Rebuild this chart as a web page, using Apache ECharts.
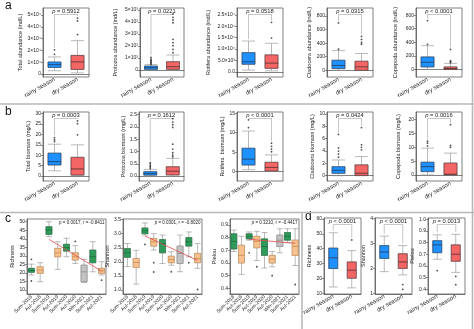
<!DOCTYPE html>
<html>
<head>
<meta charset="utf-8">
<script src="https://cdn.jsdelivr.net/npm/echarts/dist/echarts.min.js"></script>
<style>
  html, body { margin: 0; padding: 0; background: #fff; }
  #main { width: 474px; height: 329px; }
</style>
</head>
<body>
<div id="main"></div>
<script>
var FONT = 'Liberation Sans, Arial, sans-serif';

var seasons = ['rainy season', 'dry season'];
var periods = ['Sum-2018', 'Aut-2018', 'Sum-2019', 'Aut-2019', 'Sum-2020', 'Aut-2020', 'Win-2021', 'Sum-2021', 'Aut-2021'];
var periodKind = ['sum', 'aut', 'sum', 'aut', 'sum', 'aut', 'win', 'sum', 'aut'];

// ---- a: abundance (ind/L), [min, Q1, median, Q3, max] per season
var totalAbundance = [[2800, 5600, 8000, 10200, 14500], [1000, 3900, 10300, 15800, 28300]];
var totalAbundanceOut = [[16700, 20500], [33500, 45000, 47500]];
var protozoaAbundance = [[0, 60, 200, 330, 450], [0, 60, 280, 690, 1250]];
var protozoaAbundanceOut = [[480, 560, 640, 720, 800, 900, 1050], [1440, 1720, 2030, 2280, 2560, 3940, 4170, 4390, 4670]];
var rotiferaAbundance = [[750, 3300, 4400, 8400, 13500], [400, 1500, 3800, 7400, 12500]];
var rotiferaAbundanceOut = [[], [14800, 21700]];
var cladoceraAbundance = [[0, 25, 70, 148, 290], [0, 0, 50, 133, 247]];
var cladoceraAbundanceOut = [[310, 700], [385, 410, 455, 500]];
var copepodaAbundance = [[0, 38, 107, 185, 350], [0, 0, 15, 38, 90]];
var copepodaAbundanceOut = [[370, 720], [100, 115, 130, 295]];

// ---- b: biomass (mg/L)
var totalBiomass = [[2.5, 5.3, 6.9, 11.0, 15.3], [0.2, 0.5, 3.4, 9.0, 15.0]];
var totalBiomassOut = [[16.6, 17.5, 18.5], [19.8, 25.2, 26.5]];
var protozoaBiomass = [[0, 0.04, 0.1, 0.18, 0.27], [0, 0.05, 0.2, 0.38, 0.72]];
var protozoaBiomassOut = [[0.32, 0.38, 0.44, 0.5, 0.55], [0.78, 0.85, 0.95, 1.1, 1.3, 1.98, 2.09, 2.2, 2.34]];
var rotiferaBiomass = [[0.5, 1.7, 3.2, 6.0, 10.4], [0.1, 0.2, 1.1, 2.4, 4.3]];
var rotiferaBiomassOut = [[11.3, 13.3], [5.1, 5.8, 6.5, 7.3]];
var cladoceraBiomass = [[0, 0.39, 0.88, 1.46, 2.55], [0, 0.05, 0.4, 1.75, 3.1]];
var cladoceraBiomassOut = [[3.0, 3.5, 4.0, 4.5, 6.7], [4.2, 4.6, 5.0, 7.8]];
var copepodaBiomass = [[0, 1.2, 3.0, 4.6, 9.7], [0, 0, 0.25, 4.3, 7.9]];
var copepodaBiomassOut = [[10.5, 11.5, 12.2], [10.0, 10.7, 18.2]];

// ---- c: diversity by period
var richnessPeriod = [[18.8, 20.4, 21.5, 22.7, 25.2], [14.9, 19.8, 21.7, 23.6, 26], [41.2, 42.6, 45.1, 47.1, 50],
  [22.1, 29.5, 31.8, 34.4, 38.3], [29.5, 32.8, 34.8, 36.8, 40.3], [25.6, 27.6, 29.5, 31.8, 36],
  [14.5, 14.9, 20.7, 24.6, 28], [20.7, 26, 29.5, 33.4, 38.3], [18.8, 19.8, 21.3, 22.7, 26.6]];
var richnessPeriodOut = [[28, 15.3], [], [], [], [], [38.5], [], [], [15.8]];
var shannonPeriod = [[1.83, 2.16, 2.32, 2.47, 2.65], [1.21, 1.8, 1.98, 2.12, 2.41], [2.95, 3.0, 3.1, 3.2, 3.38],
  [2.42, 2.56, 2.71, 2.83, 3.0], [1.94, 2.32, 2.65, 2.79, 2.95], [1.88, 1.97, 2.08, 2.2, 2.36],
  [1.65, 1.94, 2.3, 2.56, 2.95], [2.18, 2.56, 2.71, 2.86, 3.06], [1.77, 1.97, 2.12, 2.3, 2.65]];
var shannonPeriodOut = [[], [], [2.62], [1.97, 1.64], [], [1.65], [], [1.97], [1.02]];
var pielouPeriod = [[0.69, 0.71, 0.77, 0.83, 0.86], [0.51, 0.6, 0.66, 0.74, 0.81], [0.78, 0.79, 0.81, 0.83, 0.845],
  [0.62, 0.72, 0.77, 0.81, 0.85], [0.56, 0.66, 0.73, 0.79, 0.84], [0.57, 0.6, 0.63, 0.66, 0.69],
  [0.68, 0.73, 0.78, 0.82, 0.87], [0.76, 0.78, 0.81, 0.84, 0.87], [0.58, 0.66, 0.73, 0.78, 0.87]];
var pielouPeriodOut = [[], [], [0.68], [0.57], [], [0.5], [], [], [0.43]];
// regression line ends (Sum-2019 -> Aut-2021)
var richnessTrend = [39.7, 21.1];
var shannonTrend = [2.92, 2.05];
var pielouTrend = [0.787, 0.755];

// ---- d: diversity by season
var richnessSeason = [[14.3, 26.7, 33.9, 40.4, 50.7], [13.7, 20.2, 25.6, 31.1, 38.7]];
var richnessSeasonOut = [[], [45.9]];
var shannonSeason = [[1.87, 2.4, 2.66, 2.92, 3.3], [1.74, 2.0, 2.26, 2.59, 2.92]];
var shannonSeasonOut = [[], [1.35, 1.16]];
var pielouSeason = [[0.657, 0.713, 0.78, 0.816, 0.866], [0.545, 0.64, 0.70, 0.78, 0.87]];
var pielouSeasonOut = [[0.56], [0.51, 0.44]];

// ---- tick values and labels
var tTotalAb = [0, 10000, 20000, 30000, 40000, 50000];
var lTotalAb = ['0', '1×10⁴', '2×10⁴', '3×10⁴', '4×10⁴', '5×10⁴'];
var tProtoAb = [0, 1000, 2000, 3000, 4000, 5000];
var lProtoAb = ['0', '1×10³', '2×10³', '3×10³', '4×10³', '5×10³'];
var tRotiAb = [0, 5000, 10000, 15000, 20000, 25000];
var lRotiAb = ['0.0', '5.0×10³', '1.0×10⁴', '1.5×10⁴', '2.0×10⁴', '2.5×10⁴'];
var tSmallAb = [0, 200, 400, 600, 800];
var lSmallAb = ['0', '200', '400', '600', '800'];
var tTotalBio = [0, 5, 10, 15, 20, 25, 30];
var lTotalBio = ['0', '5', '10', '15', '20', '25', '30'];
var tProtoBio = [0, 0.5, 1, 1.5, 2, 2.5];
var lProtoBio = ['0.0', '0.5', '1.0', '1.5', '2.0', '2.5'];
var tRotiBio = [0, 5, 10, 15];
var lRotiBio = ['0', '5', '10', '15'];
var tCladBio = [0, 2, 4, 6, 8, 10];
var lCladBio = ['0', '2', '4', '6', '8', '10'];
var tCopeBio = [0, 5, 10, 15, 20];
var lCopeBio = ['0', '5', '10', '15', '20'];
var tRichC = [10, 15, 20, 25, 30, 35, 40, 45, 50];
var lRichC = ['10', '15', '20', '25', '30', '35', '40', '45', '50'];
var tShanC = [1, 1.5, 2, 2.5, 3, 3.5];
var lShanC = ['1.0', '1.5', '2.0', '2.5', '3.0', '3.5'];
var tPielC = [0.4, 0.5, 0.6, 0.7, 0.8, 0.9];
var lPielC = ['0.4', '0.5', '0.6', '0.7', '0.8', '0.9'];
var tRichD = [10, 20, 30, 40, 50, 60];
var lRichD = ['10', '20', '30', '40', '50', '60'];
var tShanD = [1, 2, 3, 4];
var lShanD = ['1', '2', '3', '4'];
var tPielD = [0.4, 0.5, 0.6, 0.7, 0.8, 0.9, 1.0];
var lPielD = ['0.4', '0.5', '0.6', '0.7', '0.8', '0.9', '1.0'];

var panels = [
  {row: 'a', col: 0, cats: seasons, box: totalAbundance, out: totalAbundanceOut, name: 'Total abundance (ind/L)', p: '= 0.5912', range: [-2500, 56000], ticks: tTotalAb, labels: lTotalAb},
  {row: 'a', col: 1, cats: seasons, box: protozoaAbundance, out: protozoaAbundanceOut, name: 'Protozoa abundance (ind/L)', p: '= 0.0221', range: [-580, 5170], ticks: tProtoAb, labels: lProtoAb},
  {row: 'a', col: 2, cats: seasons, box: rotiferaAbundance, out: rotiferaAbundanceOut, name: 'Rotifera abundance (ind/L)', p: '= 0.0518', range: [-2300, 28000], ticks: tRotiAb, labels: lRotiAb},
  {row: 'a', col: 3, cats: seasons, box: cladoceraAbundance, out: cladoceraAbundanceOut, name: 'Cladocera abundance (ind/L)', p: '= 0.0315', range: [-100, 920], ticks: tSmallAb, labels: lSmallAb},
  {row: 'a', col: 4, cats: seasons, box: copepodaAbundance, out: copepodaAbundanceOut, name: 'Copepoda abundance (ind/L)', p: '< 0.0001', range: [-110, 905], ticks: tSmallAb, labels: lSmallAb},
  {row: 'b', col: 0, cats: seasons, box: totalBiomass, out: totalBiomassOut, name: 'Total biomass (mg/L)', p: '= 0.0003', range: [-2.4, 30.8], ticks: tTotalBio, labels: lTotalBio},
  {row: 'b', col: 1, cats: seasons, box: protozoaBiomass, out: protozoaBiomassOut, name: 'Protozoa biomass (mg/L)', p: '= 0.1612', range: [-0.2, 2.61], ticks: tProtoBio, labels: lProtoBio},
  {row: 'b', col: 2, cats: seasons, box: rotiferaBiomass, out: rotiferaBiomassOut, name: 'Rotifera  biomass (mg/L)', p: '< 0.0001', range: [-2.4, 15.3], ticks: tRotiBio, labels: lRotiBio},
  {row: 'b', col: 3, cats: seasons, box: cladoceraBiomass, out: cladoceraBiomassOut, name: 'Cladocera biomass (mg/L)', p: '= 0.0424', range: [-0.86, 10.33], ticks: tCladBio, labels: lCladBio},
  {row: 'b', col: 4, cats: seasons, box: copepodaBiomass, out: copepodaBiomassOut, name: 'Copepoda biomass (mg/L)', p: '= 0.0016', range: [-2.2, 22.8], ticks: tCopeBio, labels: lCopeBio},
  {row: 'c', col: 0, cats: periods, box: richnessPeriod, out: richnessPeriodOut, name: 'Richness', p: '= 0.0017, r = -0.8411', trend: richnessTrend, range: [7.7, 51.6], ticks: tRichC, labels: lRichC},
  {row: 'c', col: 1, cats: periods, box: shannonPeriod, out: shannonPeriodOut, name: 'Shannon', p: '= 0.0301, r = -0.8020', trend: shannonTrend, range: [0.86, 3.52], ticks: tShanC, labels: lShanC},
  {row: 'c', col: 2, cats: periods, box: pielouPeriod, out: pielouPeriodOut, name: 'Pielou', p: '= 0.3210, r = -0.4417', trend: pielouTrend, range: [0.355, 0.947], ticks: tPielC, labels: lPielC},
  {row: 'd', col: 0, cats: seasons, box: richnessSeason, out: richnessSeasonOut, name: 'Richness', p: '< 0.0001', range: [9.6, 60.6], ticks: tRichD, labels: lRichD},
  {row: 'd', col: 1, cats: seasons, box: shannonSeason, out: shannonSeasonOut, name: 'Shannon', p: '< 0.0001', range: [0.97, 4.03], ticks: tShanD, labels: lShanD},
  {row: 'd', col: 2, cats: seasons, box: pielouSeason, out: pielouSeasonOut, name: 'Pielou', p: '= 0.0013', range: [0.36, 1.01], ticks: tPielD, labels: lPielD}
];

// positions of the little plots (pixels)
var layout = {
  a: {top: 8, height: 69, lefts: [43, 140, 237, 327, 416], widths: [46, 44, 46, 46, 46], gaps: [20, 22, 26, 11, 18], box: 13},
  b: {top: 112, height: 69, lefts: [43, 139, 237, 327, 416], widths: [46, 45, 46, 46, 46], gaps: [12, 13, 11, 9, 15], box: 13},
  c: {top: 219, height: 75, lefts: [27, 123, 230], widths: [79, 79, 69], gaps: [10, 9, 9], box: 6},
  d: {top: 218, height: 76, lefts: [324, 375, 428], widths: [37, 37, 37], gaps: [10, 6, 9], box: 9}
};

var seasonColor = [{fill: '#1E90FF', line: '#243b55'}, {fill: '#F46666', line: '#4a3030'}];
var periodColor = {
  sum: {fill: '#2E9B5B', line: '#1c6b3d'},
  aut: {fill: '#F7C28F', line: '#c98a4b'},
  win: {fill: '#C2C2C2', line: '#8a8a8a'}
};

var AX = '#4a4a4a';
var grid = [], xAxis = [], yAxis = [], series = [], graphic = [];

panels.forEach(function (pn, i) {
  var L = layout[pn.row];
  var isPeriod = pn.cats === periods;
  var bw = L.box;
  var g = {left: L.lefts[pn.col], top: L.top, width: L.widths[pn.col], height: L.height};
  grid.push({left: g.left, top: g.top, width: g.width, height: g.height, show: true, borderColor: AX, borderWidth: 0.7});

  xAxis.push({
    gridIndex: i, type: 'category', data: pn.cats,
    axisLine: {lineStyle: {color: AX, width: 0.7}},
    axisTick: {alignWithLabel: true, length: 2, lineStyle: {color: AX, width: 0.6}},
    axisLabel: {interval: 0, rotate: isPeriod ? 45 : 30, fontSize: isPeriod ? 5 : 6, margin: 2, color: '#222', fontFamily: FONT},
    splitLine: {show: false}
  });
  yAxis.push({
    gridIndex: i, type: 'value', min: pn.range[0], max: pn.range[1],
    name: pn.name, nameLocation: 'middle', nameGap: L.gaps[pn.col],
    nameTextStyle: {fontSize: 5.5, color: '#222', fontFamily: FONT},
    axisLine: {show: true, lineStyle: {color: AX, width: 0.7}},
    axisTick: {show: true, length: 2, customValues: pn.ticks, lineStyle: {color: AX, width: 0.6}},
    axisLabel: {
      customValues: pn.ticks, fontSize: 5, margin: 2, color: '#222', fontFamily: FONT,
      formatter: function (v) {
        for (var k = 0; k < pn.ticks.length; k++) {
          if (Math.abs(pn.ticks[k] - v) < 1e-6 * Math.max(1, Math.abs(v))) return pn.labels[k];
        }
        return '';
      }
    },
    splitLine: {show: false}
  });

  // whiskers in gray
  series.push({
    type: 'boxplot', xAxisIndex: i, yAxisIndex: i, silent: true, boxWidth: [bw, bw], z: 2,
    itemStyle: {color: 'transparent', borderColor: '#8c8c8c', borderWidth: 0.6},
    data: pn.box
  });
  // filled boxes with median, drawn from the same values
  series.push({
    type: 'custom', xAxisIndex: i, yAxisIndex: i, silent: true, z: 3,
    encode: {x: 0, y: [1, 2, 3]},
    data: pn.box.map(function (b, k) { return [k, b[1], b[2], b[3]]; }),
    renderItem: function (params, api) {
      var k = api.value(0);
      var c = isPeriod ? periodColor[periodKind[k]] : seasonColor[k];
      var p1 = api.coord([k, api.value(1)]);
      var pm = api.coord([k, api.value(2)]);
      var p3 = api.coord([k, api.value(3)]);
      return {type: 'group', children: [
        {type: 'rect', shape: {x: p1[0] - bw / 2, y: p3[1], width: bw, height: Math.max(p1[1] - p3[1], 0.8)},
          style: {fill: c.fill, stroke: c.line, lineWidth: 0.6}},
        {type: 'line', shape: {x1: pm[0] - bw / 2, y1: pm[1], x2: pm[0] + bw / 2, y2: pm[1]},
          style: {stroke: c.line, lineWidth: 0.8}}
      ]};
    }
  });
  var pts = [];
  pn.out.forEach(function (arr, k) { arr.forEach(function (v) { pts.push([k, v]); }); });
  series.push({
    type: 'scatter', xAxisIndex: i, yAxisIndex: i, silent: true, symbolSize: 1.8,
    itemStyle: {color: '#222'}, data: pts, z: 4
  });

  var fs = isPeriod ? 4.5 : 5.8;
  if (isPeriod) {
    series.push({
      type: 'line', xAxisIndex: i, yAxisIndex: i, silent: true, symbol: 'none', z: 5,
      lineStyle: {color: '#e5484d', width: 0.8},
      data: [[2, pn.trend[0]], [8, pn.trend[1]]]
    });
    graphic.push({type: 'text', x: g.left + g.width - 1.5, y: g.top + 3.5, silent: true,
      style: {text: '{i|p} ' + pn.p, align: 'right', textAlign: 'right', verticalAlign: 'middle', textVerticalAlign: 'middle',
        fontSize: fs, fontFamily: FONT, fill: '#222',
        rich: {i: {fontStyle: 'italic', fontSize: fs, fontFamily: FONT}}}});
  } else {
    var span = pn.range[1] - pn.range[0];
    var yb = pn.range[1] - span * 6.5 / L.height;
    var legR = Math.max.apply(null, pn.box[0].concat(pn.out[0])) + span * 0.03;
    var legD = Math.max.apply(null, pn.box[1].concat(pn.out[1])) + span * 0.03;
    series.push({
      type: 'line', xAxisIndex: i, yAxisIndex: i, silent: true, symbol: 'none', z: 1,
      lineStyle: {color: '#a0a0a0', width: 0.6},
      data: [[0, Math.min(legR, yb)], [0, yb], [1, yb], [1, Math.min(legD, yb)]]
    });
    graphic.push({type: 'text', x: g.left + g.width / 2, y: g.top + 3.3, silent: true,
      style: {text: '{i|p} ' + pn.p, align: 'center', textAlign: 'center', verticalAlign: 'middle', textVerticalAlign: 'middle',
        fontSize: fs, fontFamily: FONT, fill: '#222',
        rich: {i: {fontStyle: 'italic', fontSize: fs, fontFamily: FONT}}}});
  }
});

// panel letters and frame lines
[['a', 5, 6], ['b', 5, 112], ['c', 5, 219], ['d', 305, 217]].forEach(function (t) {
  graphic.push({type: 'text', x: t[1], y: t[2], silent: true,
    style: {text: t[0], fontSize: 12, fontFamily: FONT, fill: '#111', verticalAlign: 'middle', textVerticalAlign: 'middle'}});
});
var SEP = {stroke: '#b8b8b8', lineWidth: 1.6};
graphic.push({type: 'line', silent: true, shape: {x1: 0, y1: 104, x2: 474, y2: 104}, style: SEP});
graphic.push({type: 'line', silent: true, shape: {x1: 0, y1: 212.5, x2: 474, y2: 212.5}, style: SEP});
graphic.push({type: 'line', silent: true, shape: {x1: 302, y1: 212.5, x2: 302, y2: 329}, style: SEP});
graphic.push({type: 'line', silent: true, shape: {x1: 472.5, y1: 0, x2: 472.5, y2: 329}, style: SEP});

var myChart = echarts.init(document.getElementById('main'));
myChart.setOption({
  animation: false,
  backgroundColor: '#fff',
  textStyle: {fontFamily: FONT},
  grid: grid,
  xAxis: xAxis,
  yAxis: yAxis,
  series: series,
  graphic: graphic
});
</script>
</body>
</html>
